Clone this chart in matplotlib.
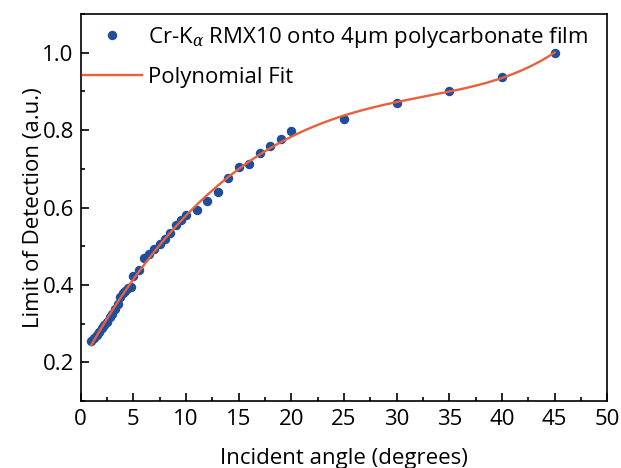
import numpy as np
import matplotlib
matplotlib.use("Agg")
import matplotlib.pyplot as plt
from matplotlib.ticker import MultipleLocator

# data
angle = [1.0, 1.25, 1.5, 1.75, 2.0, 2.25, 2.5, 2.75, 3.0, 3.25, 3.5, 3.75,
         4.0, 4.25, 4.5, 4.75, 5.0, 5.5, 6.0, 6.5, 7.0, 7.5, 8.0, 8.5, 9.0,
         9.5, 10, 11, 12, 13, 14, 15, 16, 17, 18, 19, 20, 25, 30, 35, 40, 45]
lod = [0.255, 0.262, 0.270, 0.279, 0.288, 0.296, 0.305, 0.318, 0.325, 0.338,
       0.350, 0.368, 0.378, 0.385, 0.392, 0.395, 0.422, 0.438, 0.470, 0.481,
       0.494, 0.507, 0.520, 0.535, 0.555, 0.568, 0.581, 0.594, 0.617, 0.639,
       0.676, 0.705, 0.712, 0.741, 0.759, 0.776, 0.799, 0.828, 0.870, 0.900,
       0.937, 1.000]
fit_degree = 5

plt.rcParams['font.family'] = ['Open Sans', 'DejaVu Sans']
plt.rcParams['mathtext.fontset'] = 'custom'
plt.rcParams['mathtext.it'] = 'DejaVu Serif:italic'

fig = plt.figure(figsize=(6.21, 4.68), dpi=100)
ax = fig.add_axes([0.130, 0.143, 0.848, 0.827])

coef = np.polyfit(angle, lod, fit_degree)
xf = np.linspace(min(angle), max(angle), 300)
yf = np.polyval(coef, xf)

ax.plot(angle, lod, 'o', color='#1f4e9a', ms=6.8, mec='none',
        label='Cr-K$_{\\alpha}$ RMX10 onto 4\u03bcm polycarbonate film', zorder=2)
ax.plot(xf, yf, '-', color='#e8603c', lw=1.7, label='Polynomial Fit', zorder=3)

ax.set_xlim(0, 50)
ax.set_ylim(0.1, 1.1)
ax.xaxis.set_major_locator(MultipleLocator(5))
ax.xaxis.set_minor_locator(MultipleLocator(2.5))
ax.yaxis.set_minor_locator(MultipleLocator(0.1))
ax.set_yticks([0.2, 0.4, 0.6, 0.8, 1.0])
ax.set_yticklabels(['0.2', '0.4', '0.6', '0.8', '1.0'])
ax.tick_params(which='both', direction='in', top=False, right=False, labelsize=16, width=1.2)
ax.tick_params(which='major', length=6)
ax.tick_params(which='minor', length=3)
ax.tick_params(axis='x', pad=6)
ax.tick_params(axis='y', pad=5)
for s in ax.spines.values():
    s.set_linewidth(1.2)

ax.set_xlabel('Incident angle (degrees)', fontsize=16, labelpad=13)
ax.set_ylabel('Limit of Detection (a.u.)', fontsize=16, labelpad=-1)

ax.legend(loc='upper left', bbox_to_anchor=(0.004, 0.972), frameon=False,
          fontsize=16, handlelength=2.66, handletextpad=0.27, labelspacing=0.78,
          borderaxespad=0, borderpad=0)

fig.savefig('out.png', dpi=100)
